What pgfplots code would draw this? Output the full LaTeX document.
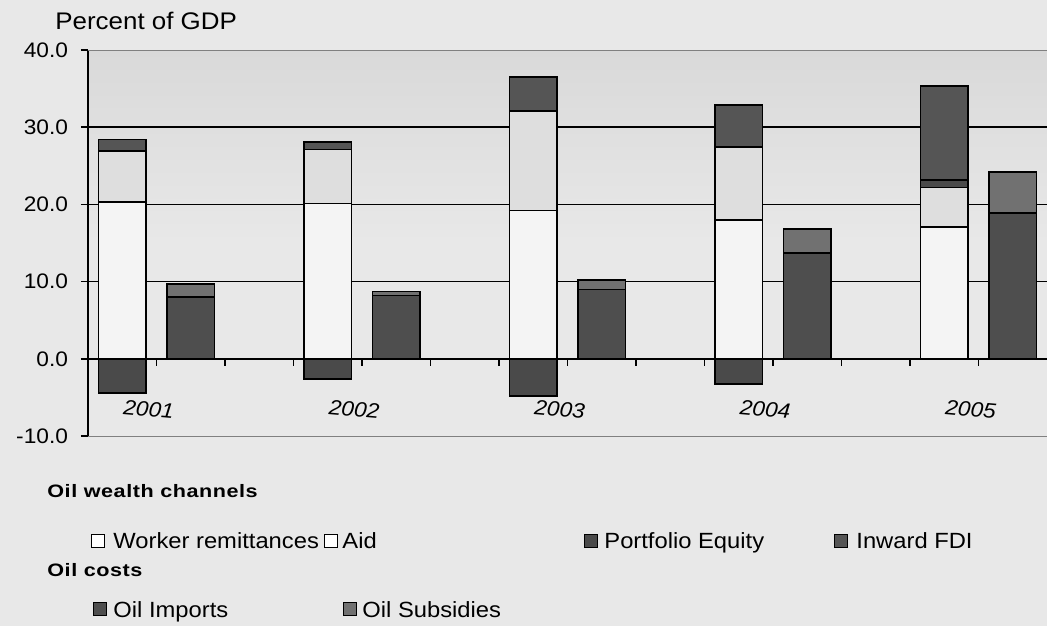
\documentclass[border=0pt]{standalone}
\usepackage{pgfplots}
\pgfplotsset{compat=1.18}
\usepackage{pgfplotstable}
\usepackage{fontspec}
\setmainfont{Liberation Sans}[FakeStretch=1.08]
\newfontfamily\headfont{Liberation Sans}[FakeStretch=1.2,LetterSpace=3]

\definecolor{bg}{HTML}{E8E8E8}
\definecolor{bgdark}{HTML}{D9D9D9}
\definecolor{remc}{HTML}{F4F4F4}
\definecolor{aidc}{HTML}{DEDEDE}
\definecolor{pec}{HTML}{4A4A4A}
\definecolor{fdic}{HTML}{555555}
\definecolor{impc}{HTML}{4E4E4E}
\definecolor{subc}{HTML}{717171}

% wealth bar of each year sits at x, the oil-cost bar one slot to the right
\pgfplotstableread{
x    rem  aid  pe   fdi
0.5  20.3 6.6  -4.4 1.5
3.5  20.1 7.0  -2.6 1.0
6.5  19.2 12.9 -4.8 4.4
9.5  18.0 9.4  -3.3 5.5
12.5 17.1 5.1  1.0  12.1
}\wealth

\pgfplotstableread{
x    imp  sub
1.5  8.0  1.7
4.5  8.2  0.5
7.5  9.0  1.2
10.5 13.7 3.1
13.5 18.9 5.3
}\costs

\begin{document}
\begin{tikzpicture}
\path[use as bounding box, fill=bg] (-44pt,-95pt) rectangle (479.5pt,218pt);
\begin{axis}[
  scale only axis, width=479.5pt, height=193pt,
  xmin=0, xmax=14, ymin=-10, ymax=40,
  axis background/.style={top color=bgdark, bottom color=bg, middle color=bg},
  ybar, bar shift=0pt, bar width=0.69,
  axis y line*=left, axis x line*=middle,
  axis line style={black, line width=0.8pt},
  tick align=outside, major tick length=3.5pt,
  tick style={black, line width=0.8pt},
  ytick={0,10,20,30},
  extra y ticks={-10,40},
  extra y tick style={grid style={gray, line width=0.5pt}},
  ymajorgrids, grid style={black, line width=0.8pt},
  xtick={1,...,13},
  xticklabels={2001,,,2002,,,2003,,,2004,,,2005},
  xticklabel style={font=\itshape\fontsize{10.5}{12}\selectfont, anchor=center, rotate=-5, yshift=-22pt, xshift=-2pt},
  yticklabel style={font=\fontsize{10.5}{12}\selectfont, xshift=-3pt},
  /pgf/number format/assume math mode=true,
  /pgf/number format/.cd, fixed, fixed zerofill, precision=1,
]
\pgfplotsset{every axis plot/.append style={draw=black, line width=0.8pt}}
\addplot[fill=fdic] table[x=x, y expr={\thisrow{rem}+\thisrow{aid}+max(\thisrow{pe},0)+\thisrow{fdi}}] {\wealth};
\addplot[fill=pec] table[x=x, y expr={\thisrow{rem}+\thisrow{aid}+max(\thisrow{pe},0)}] {\wealth};
\addplot[fill=aidc] table[x=x, y expr={\thisrow{rem}+\thisrow{aid}}] {\wealth};
\addplot[fill=remc] table[x=x, y=rem] {\wealth};
\addplot[fill=pec] table[x=x, y expr={min(\thisrow{pe},0)}] {\wealth};
\addplot[fill=subc] table[x=x, y expr={\thisrow{imp}+\thisrow{sub}}] {\costs};
\addplot[fill=impc] table[x=x, y=imp] {\costs};
\end{axis}

\node[anchor=base west, inner sep=0pt, font=\fontsize{12}{14}\selectfont] at (-16.5pt,203pt) {Percent of GDP};

\begin{scope}[font=\fontsize{11}{13}\selectfont,
  sq/.style={draw=black, line width=0.5pt, minimum size=6.5pt, inner sep=0pt},
  t/.style={anchor=base west, inner sep=0pt},
  h/.style={anchor=base west, inner sep=0pt, font=\headfont\bfseries\fontsize{9}{11}\selectfont}]
\node[h] at (-20.5pt,-30.5pt) {Oil wealth channels};
\node[sq, fill=white] at (5pt,-52.5pt) {};
\node[t] at (12.5pt,-56pt) {Worker remittances};
\node[sq, fill=white] at (121.5pt,-52.5pt) {};
\node[t] at (127pt,-56pt) {Aid};
\node[sq, fill=pec] at (251.5pt,-52.5pt) {};
\node[t] at (258pt,-56pt) {Portfolio Equity};
\node[sq, fill=fdic] at (376.5pt,-52.5pt) {};
\node[t] at (384pt,-56pt) {Inward FDI};
\node[h] at (-20.5pt,-70pt) {Oil costs};
\node[sq, fill=impc] at (6pt,-86.5pt) {};
\node[t] at (12.5pt,-90.5pt) {Oil Imports};
\node[sq, fill=subc] at (131pt,-86.5pt) {};
\node[t] at (137pt,-90.5pt) {Oil Subsidies};
\end{scope}
\end{tikzpicture}
\end{document}
